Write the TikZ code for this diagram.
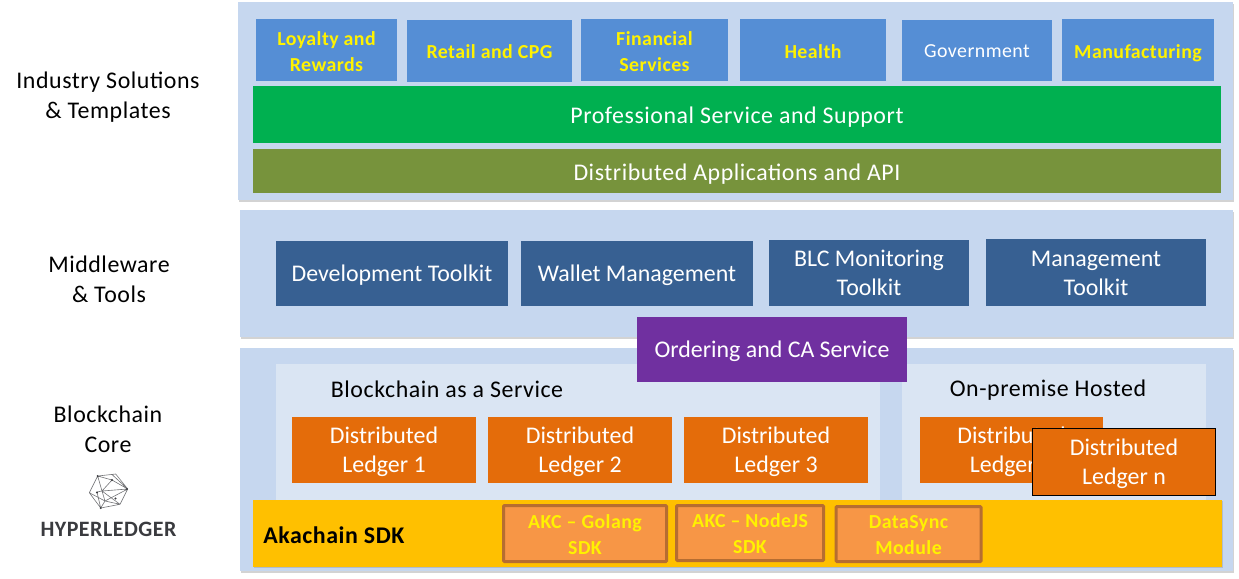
\documentclass[tikz,border=0pt]{standalone}
\usepackage{fontspec}
\setmainfont{Carlito}
\newfontfamily\loosefont{Carlito}[LetterSpace=2.3]
\usetikzlibrary{shadows}
\definecolor{panelblue}{HTML}{C6D7EF}
\definecolor{innerblue}{HTML}{DAE5F3}
\definecolor{tileblue}{HTML}{558ED5}
\definecolor{midblue}{HTML}{376092}
\definecolor{ledgerorange}{HTML}{E46C0A}
\definecolor{sdkyellow}{HTML}{FFC000}
\definecolor{sdkorange}{HTML}{F79646}
\definecolor{sdkedge}{HTML}{B66D31}
\definecolor{greenbar}{HTML}{00B050}
\definecolor{olivebar}{HTML}{77933C}
\definecolor{purplebox}{HTML}{7030A0}
\definecolor{logogrey}{HTML}{3A3B3F}
\tikzset{
  wh/.style 2 args={minimum width=#1*0.02cm,minimum height=#2*0.02cm},
  panel/.style={fill=panelblue,inner sep=0pt,drop shadow={shadow xshift=0.6pt,shadow yshift=-0.9pt,opacity=0.35}},
  inner panel/.style={fill=innerblue,inner sep=0pt},
  box/.style={inner sep=0pt,align=center,text=white,font=\fontsize{13.6}{16.4}\selectfont,text height=11.6pt},
  loose/.style={font=\loosefont\fontsize{13.6}{16.4}\selectfont},
  tile/.style={box,fill=tileblue,text=yellow,font=\loosefont\fontsize{11.3}{14.7}\selectfont\bfseries,text height=10pt},
  toolbox/.style={box,fill=midblue},
  ledger/.style={box,fill=ledgerorange,text height=28pt},
  sdk/.style={inner sep=0pt,align=center,fill=sdkorange,draw=sdkedge,line width=1.7pt,text=yellow,rounded corners=0.5pt,font=\loosefont\fontsize{11.3}{14.7}\selectfont\bfseries,text height=23.5pt},
  layer label/.style={align=center,font=\loosefont\fontsize{13.6}{17}\selectfont},
}
\begin{document}
\begin{tikzpicture}[x=0.02cm,y=-0.02cm]
\useasboundingbox (0,0) rectangle (1239,578);
% layers
\node[panel,wh={995}{198}] at (735.5,101) (top) {};
\node[panel,wh={993}{127}] at (736.5,273.5) (middle) {};
\node[panel,wh={993}{223}] at (736.5,459.5) (core) {};
\node[layer label] at (108,97) (solutions) {Industry Solutions\\\& Templates};
\node[layer label] at (109,279) (tools) {Middleware\\\& Tools};
\node[layer label] at (108,429) (chain) {Blockchain\\Core};
% top layer
\node[tile,wh={141}{62},text height=24.7pt] at (326.5,50) (loyalty) {Loyalty and\\Rewards};
\node[tile,wh={165}{62},text height=8.9pt] at (489.5,51) (retail) {Retail and CPG};
\node[tile,wh={147}{62},text height=24.7pt] at (654.5,50) (financial) {Financial\\Services};
\node[tile,wh={146}{62}] at (813,50) (health) {Health};
\node[tile,wh={150}{61},text=white,font=\loosefont\fontsize{11.3}{14.7}\selectfont,text height=8.6pt] at (977,50.5) (government) {Government};
\node[tile,wh={152}{62},text height=12pt] at (1138,50) (manufacturing) {Manufacturing};
\node[box,loose,fill=greenbar,wh={968}{57},text height=12.7pt] at (737,114.5) (support) {Professional Service and Support};
\node[box,loose,fill=olivebar,wh={968}{44},text height=12.7pt] at (737,171) (apps) {Distributed Applications and API};
% middle layer
\node[toolbox,wh={232}{65}] at (392,273.5) (devkit) {Development Toolkit};
\node[toolbox,wh={232}{65}] at (637,273.5) (wallet) {Wallet Management};
\node[toolbox,wh={200}{66},text height=25.7pt] at (869,273) (monitor) {BLC Monitoring\\Toolkit};
\node[toolbox,wh={220}{67},text height=26.3pt] at (1096,272.5) (manage) {Management\\Toolkit};
% core layer
\node[inner panel,wh={604}{136}] at (578,432) (baas) {};
\node[inner panel,wh={304}{136}] at (1054,432) (hosted) {};
\node[box,fill=purplebox,wh={270}{65}] at (772,349.5) (ordering) {Ordering and CA Service};
\node[box,loose,text=black,text height=9.3pt] at (447,389) (baastitle) {Blockchain as a Service};
\node[box,loose,text=black,text height=9.3pt] at (1048,390.5) (hostedtitle) {On-premise Hosted};
\node[ledger,wh={184}{66}] at (384,450) (ledger1) {Distributed\\Ledger 1};
\node[ledger,wh={184}{66}] at (580,450) (ledger2) {Distributed\\Ledger 2};
\node[ledger,wh={184}{66}] at (776,450) (ledger3) {Distributed\\Ledger 3};
\node[ledger,wh={183}{66}] at (1011.5,450) (ledger4) {Distributed\\Ledger 4};
\node[ledger,wh={183}{67},draw=black,line width=0.6pt] at (1124,462) (ledgern) {Distributed\\Ledger n};
\node[fill=sdkyellow,inner sep=0pt,wh={969}{67},drop shadow={shadow xshift=0.5pt,shadow yshift=-0.6pt,opacity=0.3}] at (737.5,533.5) (sdkbar) {};
\node[anchor=west,inner sep=0pt,font=\loosefont\fontsize{13.6}{16.4}\selectfont\bfseries] at (263,535) (sdktitle) {Akachain SDK};
\node[sdk,wh={163}{56}] at (585,533.5) (golang) {AKC – Golang\\SDK};
\node[sdk,wh={147}{55}] at (750,533) (nodejs) {AKC – NodeJS\\SDK};
\node[sdk,wh={145}{55}] at (908.5,534) (datasync) {DataSync\\Module};
% logo
\draw[logogrey!70,line width=0.35pt,line join=round]
  (97.7,476) -- (115.7,474) -- (127.7,489) -- (120,504.3) -- (100.7,508) -- (89.3,492.7) -- cycle
  (97.7,476) -- (102,491) -- (127.7,489) -- (112,474.5)
  (97.7,476) -- (89.3,492.7) -- (105,501) -- (100.7,508)
  (102,491) -- (105,501) -- (120,504.3) -- (102,491)
  (102,491) -- (97,492) -- (100.7,508)
  (105,501) -- (127.7,489)
  (97.7,476) -- (112,480) -- (127.7,489)
  (112,480) -- (102,491);
\foreach \dotx/\doty in {97.7/476,112/480,127/489,97/492.5,115.5/498.5,100.7/508}
  \fill[logogrey] (\dotx,\doty) circle (0.6pt);
\node[inner sep=0pt,text=logogrey,font=\loosefont\fontsize{12.5}{14}\selectfont\bfseries] at (108.5,529) (hyperledger) {HYPERLEDGER};
\end{tikzpicture}
\end{document}
